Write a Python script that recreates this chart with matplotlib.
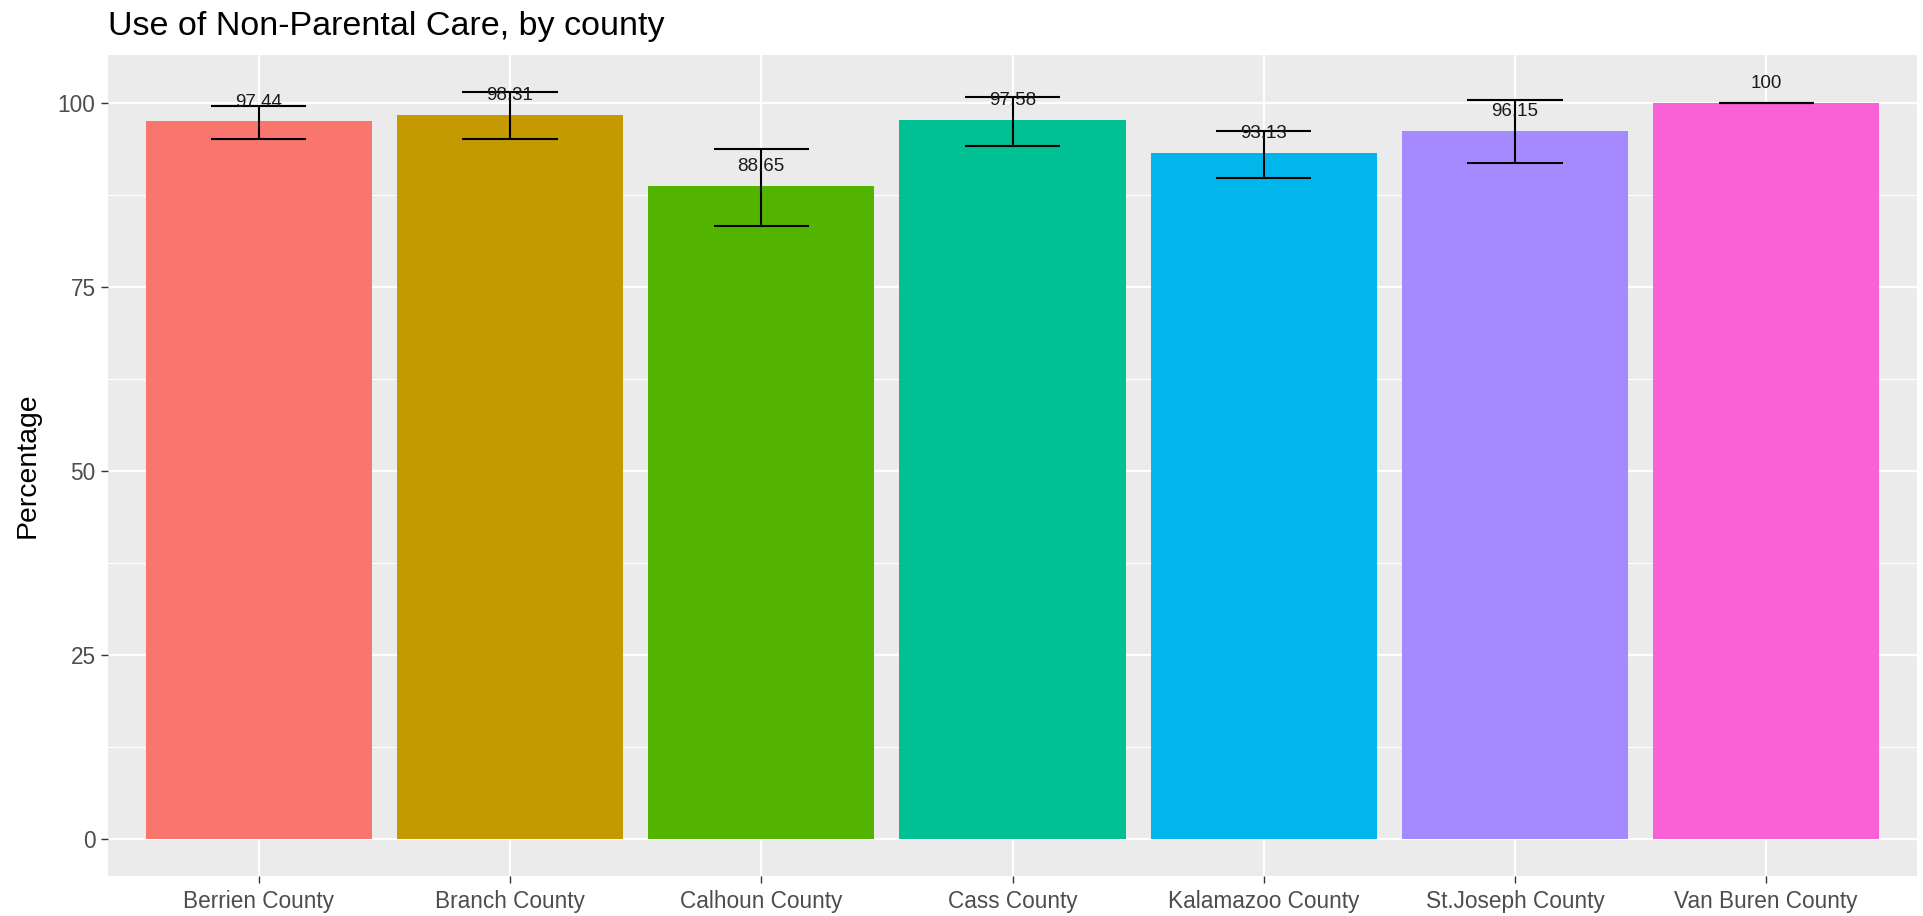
import matplotlib
matplotlib.use("Agg")
import matplotlib.pyplot as plt
import numpy as np

counties = ["Berrien County", "Branch County", "Calhoun County", "Cass County",
            "Kalamazoo County", "St.Joseph County", "Van Buren County"]
values = [97.44, 98.31, 88.65, 97.58, 93.13, 96.15, 100.0]
err_low = [95.1, 95.0, 83.3, 94.1, 89.8, 91.8, 100.0]
err_high = [99.5, 101.4, 93.7, 100.7, 96.2, 100.3, 100.0]
value_labels = ["97.44", "98.31", "88.65", "97.58", "93.13", "96.15", "100"]
colors = ["#F8766D", "#C49A00", "#53B400", "#00C094", "#00B6EB", "#A58AFF", "#FB61D7"]
yticks = [0, 25, 50, 75, 100]

plt.rcParams['font.family'] = ['Liberation Sans', 'DejaVu Sans']

fig = plt.figure(figsize=(19.24, 9.16), dpi=100)
ax = fig.add_axes([108/1924, 1 - 876/916, (1917-108)/1924, (876-55)/916])
ax.set_facecolor("#EBEBEB")

x = np.arange(len(counties))
ymax = max(max(err_high), max(values))
ymin = 0
rng = ymax - ymin
ax.set_xlim(-0.6, len(counties) - 0.4)
ax.set_ylim(ymin - 0.05 * rng, ymax + 0.05 * rng)

# grid
for yv in yticks:
    ax.axhline(yv, color="white", lw=1.6, zorder=0)
for yv in np.array(yticks[:-1]) + 12.5:
    ax.axhline(yv, color="white", lw=0.8, zorder=0)
for xv in x:
    ax.axvline(xv, color="white", lw=1.6, zorder=0)

ax.bar(x, values, width=0.9, color=colors, zorder=2)

half = 0.19
ax.vlines(x, err_low, err_high, color="black", lw=1.5, zorder=3)
ax.hlines(err_low, x - half, x + half, color="black", lw=1.5, zorder=3)
ax.hlines(err_high, x - half, x + half, color="black", lw=1.5, zorder=3)

for xi, v, lab in zip(x, values, value_labels):
    ax.annotate(lab, (xi, v), xytext=(0, 14), textcoords="offset points",
                ha="center", va="center", fontsize=13.5, color="#1A1A1A", zorder=4)

for s in ax.spines.values():
    s.set_visible(False)

ax.set_xticks(x)
ax.set_xticklabels(counties)
ax.set_yticks(yticks)
ax.set_yticklabels([str(t) for t in yticks])
ax.tick_params(axis="both", colors="#333333", length=5, width=1.0,
               labelcolor="#4D4D4D", labelsize=16.3)
ax.tick_params(axis="x", pad=5)
ax.tick_params(axis="y", pad=4)
ax.set_ylabel("Percentage", fontsize=20.4, color="black")
ax.yaxis.set_label_coords(-0.037, 0.5)

fig.text(108/1924, 1 - 35/916, "Use of Non-Parental Care, by county",
         fontsize=24.5, color="black", ha="left", va="baseline")

fig.savefig("out.png", dpi=100)
